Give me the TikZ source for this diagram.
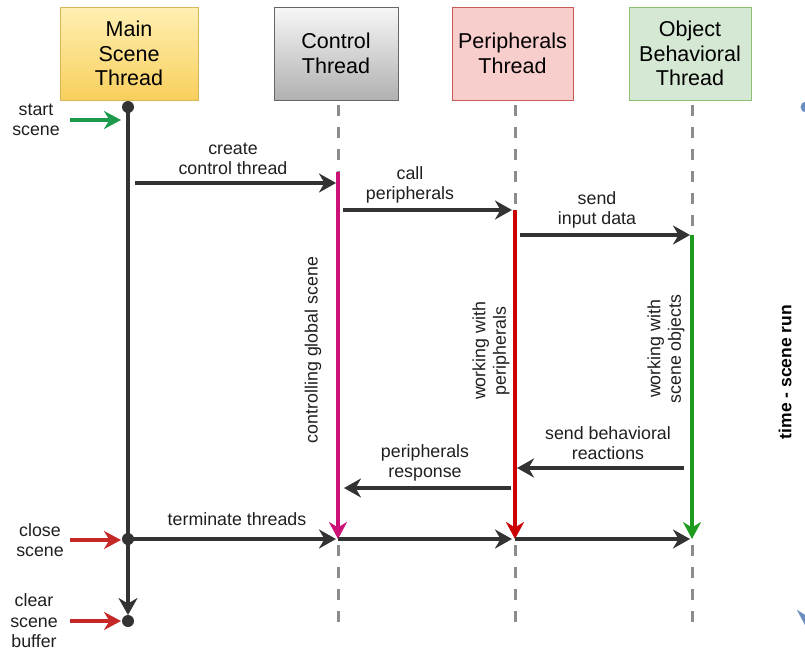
\documentclass[tikz,border=0pt]{standalone}
\usepackage{fontspec}
\setmainfont{Liberation Sans}
\usetikzlibrary{arrows.meta}

\definecolor{ink}{HTML}{333333}
\definecolor{lifegray}{HTML}{8C8C8C}
\definecolor{mainT}{HTML}{FFEFB4}
\definecolor{mainB}{HTML}{F8CF5C}
\definecolor{mainD}{HTML}{D6B656}
\definecolor{ctrlT}{HTML}{F7F7F7}
\definecolor{ctrlB}{HTML}{B0B0B0}
\definecolor{ctrlD}{HTML}{666666}
\definecolor{perF}{HTML}{F8CECC}
\definecolor{perD}{HTML}{C85A55}
\definecolor{objF}{HTML}{D5E8D4}
\definecolor{objD}{HTML}{8CC070}
\definecolor{ctrlAct}{HTML}{CC1177}
\definecolor{perAct}{HTML}{CC0000}
\definecolor{objAct}{HTML}{1E9A1E}
\definecolor{goGreen}{HTML}{1A9A4A}
\definecolor{stopRed}{HTML}{C62828}
\definecolor{timeBlue}{HTML}{6C8EBF}
\definecolor{timeLine}{HTML}{DCE6F4}

\tikzset{
  head/.style={draw, line width=1pt, align=center, inner sep=0pt,
    font=\fontsize{21.5}{24.5}\selectfont, text=black},
  life/.style={lifegray, line width=3pt, dash pattern=on 11pt off 11pt},
  msg/.style={ink, line width=3.5pt, -{Stealth[length=17pt,width=19pt,inset=5.5pt]}},
  act/.style={line width=3.2pt, -{Stealth[length=17pt,width=18pt,inset=5.5pt]}},
  side/.style={line width=3.2pt, -{Stealth[length=17pt,width=18pt,inset=5.5pt]}},
  lbl/.style={align=center, inner sep=0pt, font=\fontsize{17.8}{20.5}\selectfont, text=ink!60!black},
  dot/.style={ink},
}

\begin{document}
\begin{tikzpicture}[x=1pt,y=-1pt]
\useasboundingbox (0,0) rectangle (805,651);

% thread headers
\node[head, top color=mainT, bottom color=mainB, draw=mainD,
      minimum width=138pt, minimum height=93pt] (main) at (129,53.5) {Main\\Scene\\Thread};
\node[head, top color=ctrlT, bottom color=ctrlB, draw=ctrlD,
      minimum width=124pt, minimum height=93pt] (ctrl) at (336,53.5) {Control\\Thread};
\node[head, fill=perF, draw=perD,
      minimum width=121pt, minimum height=93pt] (per) at (512.5,53.5) {Peripherals\\Thread};
\node[head, fill=objF, draw=objD,
      minimum width=122pt, minimum height=93pt] (obj) at (690,53.5) {Object\\Behavioral\\Thread};

% lifeline anchor points
\coordinate (m0) at (128,107);
\coordinate (mClose) at (128,539);
\coordinate (mClear) at (128,621);
\coordinate (c0) at (338,105);  \coordinate (cEnd) at (338,628);
\coordinate (p0) at (515,105);  \coordinate (pEnd) at (515,628);
\coordinate (o0) at (692,105);  \coordinate (oEnd) at (692,628);

% dashed lifelines
\draw[life] (c0) -- (cEnd);
\draw[life] (p0) -- (pEnd);
\draw[life] (o0) -- (oEnd);

% main thread
\draw[ink, line width=3.5pt] (m0) -- (mClose);
\draw[msg, shorten >=6pt] (mClose) -- (mClear);
\fill[dot] (m0) circle[radius=6pt];
\fill[dot] (mClose) circle[radius=6pt];
\fill[dot] (mClear) circle[radius=6pt];

% activation bars
\coordinate (cA) at (338,172);  \coordinate (cZ) at (338,539);
\coordinate (pA) at (515,210);  \coordinate (pZ) at (515,539);
\coordinate (oA) at (692,235);  \coordinate (oZ) at (692,539);
\draw[act, ctrlAct] (cA) -- (cZ);
\draw[act, perAct] (pA) -- (pZ);
\draw[act, objAct] (oA) -- (oZ);

% messages
\coordinate (mC) at (128,183);   \coordinate (cC) at (338,183);
\draw[msg, shorten <=7pt, shorten >=2pt] (mC) -- (cC);
\node[lbl] (lCreate) at (233,159) {create\\control thread};

\coordinate (cP) at (338,210);   \coordinate (pP) at (515,210);
\draw[msg, shorten <=5pt, shorten >=3pt] (cP) -- (pP);
\node[lbl] (lCall) at (410,185) {call\\peripherals};

\coordinate (pI) at (515,235);   \coordinate (oI) at (692,235);
\draw[msg, shorten <=5pt, shorten >=2pt] (pI) -- (oI);
\node[lbl] (lSend) at (597,210) {send\\input data};

\coordinate (oR) at (692,468);   \coordinate (pR) at (515,468);
\draw[msg, shorten <=8pt, shorten >=2pt] (oR) -- (pR);
\node[lbl] (lReact) at (608,443) {send behavioral\\reactions};

\coordinate (pS) at (515,488);   \coordinate (cS) at (338,488);
\draw[msg, shorten <=4pt, shorten >=6pt] (pS) -- (cS);
\node[lbl] (lResp) at (425,463) {peripherals\\response};

% termination
\coordinate (cT) at (338,539);   \coordinate (pT) at (515,539);   \coordinate (oT) at (692,539);
\draw[msg, shorten >=2pt] (mClose) -- (cT);
\draw[msg, shorten >=3pt] (cT) -- (pT);
\draw[msg, shorten >=2pt] (pT) -- (oT);
\node[lbl] (lTerm) at (237,519) {terminate threads};

% activity labels
\node[lbl, rotate=90] (lCtrl) at (313,350) {controlling global scene};
\node[lbl, rotate=90] (lPer) at (491,351) {working with\\peripherals};
\node[lbl, rotate=90] (lObj) at (666,349) {working with\\scene objects};

% external events
\coordinate (sS) at (70,120);  \coordinate (sE) at (121,120);
\draw[side, goGreen] (sS) -- (sE);
\node[lbl] (lStart) at (36,120) {start\\scene};

\coordinate (cS0) at (70,540);  \coordinate (cE0) at (121,540);
\draw[side, stopRed] (cS0) -- (cE0);
\node[lbl] (lClose) at (40,540) {close\\scene};

\coordinate (bS) at (70,621);  \coordinate (bE) at (121,621);
\draw[side, stopRed] (bS) -- (bE);
\node[lbl] (lClear) at (34,621) {clear\\scene\\buffer};

% time axis
\coordinate (t0) at (806,107);
\coordinate (t1) at (806,627);
\draw[timeLine, line width=3pt, -{Stealth[length=17pt,width=18pt,inset=5.5pt,color=timeBlue]}] (t0) -- (t1);
\fill[timeBlue] (t0) circle[radius=5.5pt];
\node[lbl, rotate=90, font=\fontsize{17.5}{20}\selectfont\bfseries, text=black] (lTime) at (785,372) {time - scene run};
\end{tikzpicture}
\end{document}
